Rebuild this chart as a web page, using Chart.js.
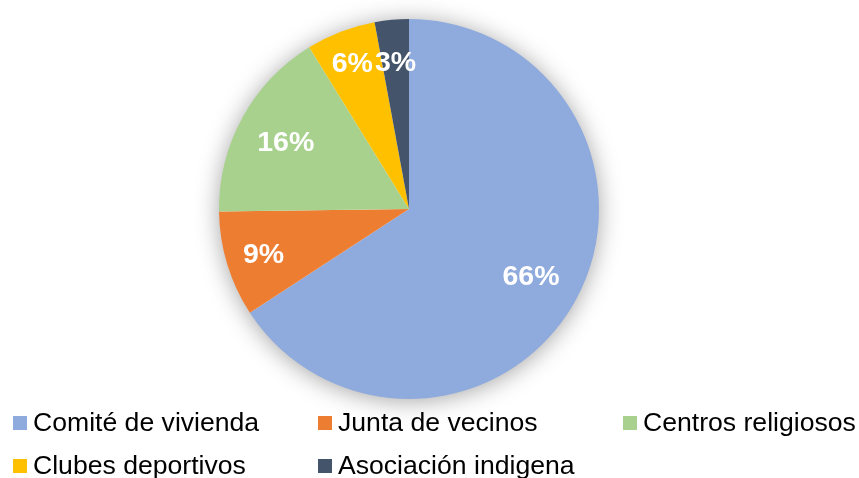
<!DOCTYPE html>
<html>
<head>
<meta charset="utf-8">
<script src="https://cdn.jsdelivr.net/npm/chart.js@4/dist/chart.umd.min.js"></script>
<style>
  html, body { margin: 0; padding: 0; background: #fff; }
  #wrap { position: relative; width: 859px; height: 478px; overflow: hidden; }
  #c { position: absolute; left: 0; top: 0; }
  .lg { position: absolute; font-family: "Liberation Sans", Arial, sans-serif; font-size: 26.6px; color: #000; white-space: nowrap; line-height: 30px; }
  .lg i { position: absolute; width: 14px; height: 14px; left: 0; top: 9px; }
  .lg span { position: absolute; left: 20px; top: 0; }
</style>
</head>
<body>
<div id="wrap">
  <canvas id="c" width="859" height="478"></canvas>
  <div id="legend"></div>
</div>
<script>
const categories = ["Comité de vivienda", "Junta de vecinos", "Centros religiosos", "Clubes deportivos", "Asociación indigena"];
const values = [65.8, 9.0, 16.4, 5.9, 2.9];
const colors = ["#8FAADC", "#ED7D31", "#A9D18E", "#FFC000", "#44546A"];

// legend layout (left, top) per item
const legendPos = [[13, 407], [318, 407], [623, 407], [13, 450], [318, 450]];
const legendEl = document.getElementById('legend');
categories.forEach((name, i) => {
  const d = document.createElement('div');
  d.className = 'lg';
  d.style.left = legendPos[i][0] + 'px';
  d.style.top = legendPos[i][1] + 'px';
  d.innerHTML = '<i style="background:' + colors[i] + '"></i><span>' + name + '</span>';
  legendEl.appendChild(d);
});

const labelRadius = [0.73, 0.80, 0.74, 0.83, 0.78];

const shadowPlugin = {
  id: 'shadow',
  beforeDatasetsDraw(chart) {
    const arc = chart.getDatasetMeta(0).data[0];
    if (!arc) return;
    const ctx = chart.ctx;
    ctx.save();
    ctx.shadowColor = 'rgba(0,0,0,0.38)';
    ctx.shadowBlur = 24;
    ctx.shadowOffsetX = 0;
    ctx.shadowOffsetY = 2;
    ctx.fillStyle = '#ffffff';
    ctx.beginPath();
    ctx.arc(arc.x, arc.y, arc.outerRadius - 1, 0, Math.PI * 2);
    ctx.fill();
    ctx.restore();
  }
};

const labelPlugin = {
  id: 'pctLabels',
  afterDatasetsDraw(chart) {
    const meta = chart.getDatasetMeta(0);
    const data = chart.data.datasets[0].data;
    const total = data.reduce((a, b) => a + b, 0);
    const ctx = chart.ctx;
    ctx.save();
    ctx.fillStyle = '#ffffff';
    ctx.font = 'bold 28.5px "Liberation Sans", Arial, sans-serif';
    ctx.textAlign = 'center';
    ctx.textBaseline = 'middle';
    meta.data.forEach((arc, i) => {
      const mid = (arc.startAngle + arc.endAngle) / 2;
      const r = arc.outerRadius * labelRadius[i];
      const x = arc.x + Math.cos(mid) * r;
      const y = arc.y + Math.sin(mid) * r;
      ctx.fillText(Math.round(data[i] / total * 100) + '%', x, y + 2);
    });
    ctx.restore();
  }
};

new Chart(document.getElementById('c'), {
  type: 'pie',
  data: {
    labels: categories,
    datasets: [{
      data: values,
      backgroundColor: colors,
      borderWidth: 0,
      hoverOffset: 0
    }]
  },
  options: {
    responsive: false,
    animation: false,
    layout: { padding: { left: 0, right: 41, top: 19, bottom: 79 } },
    plugins: {
      legend: { display: false },
      tooltip: { enabled: false }
    }
  },
  plugins: [shadowPlugin, labelPlugin]
});
</script>
</body>
</html>
